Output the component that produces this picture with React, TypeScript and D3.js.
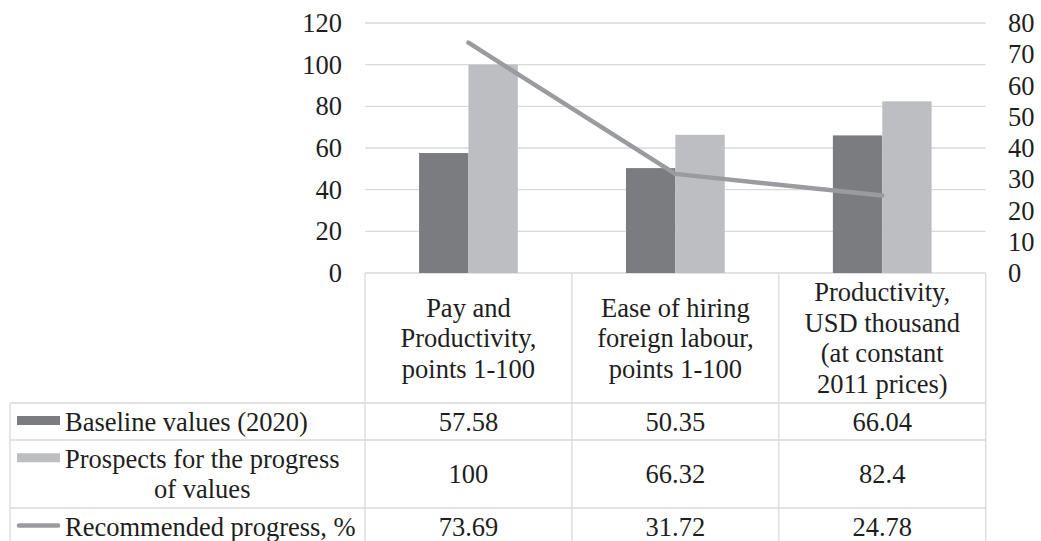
import React, { useEffect, useRef } from 'react';
import * as d3 from 'd3';

// category headers (already wrapped as in the data table)
const categories = [
  ['Pay and', 'Productivity,', 'points 1-100'],
  ['Ease of hiring', 'foreign labour,', 'points 1-100'],
  ['Productivity,', 'USD thousand', '(at constant', '2011 prices)'],
];
const baselineValues = [57.58, 50.35, 66.04];
const prospectValues = [100, 66.32, 82.4];
const recommendedValues = [73.69, 31.72, 24.78];

const seriesNames = [
  ['Baseline values (2020)'],
  ['Prospects for the progress', 'of values'],
  ['Recommended progress, %'],
];

const leftTicks = [0, 20, 40, 60, 80, 100, 120];
const rightTicks = [0, 10, 20, 30, 40, 50, 60, 70, 80];

const DARK = '#7b7c80';
const LIGHT = '#bdbec2';
const LINE = '#9a9b9f';
const GRID = '#d9d9d9';
const TEXT = '#1e1e1e';
const FONT = '"Liberation Serif", "Times New Roman", serif';

const App = () => {
  const svgRef = useRef<SVGSVGElement>(null);

  useEffect(() => {
    const W = 1041;
    const H = 541;
    const plot = { left: 365, right: 985.7, top: 23, bottom: 273 };
    const tableLeft = 10;
    const keyX0 = 17;
    const keyX1 = 60;
    const textX = 65;
    const lineH = 30.5;
    const fs = 26.5;

    const svg = d3.select(svgRef.current);
    svg.selectAll('*').remove();
    svg.attr('width', W).attr('height', H);

    const idx = categories.map((_, i) => i);
    const x = d3.scaleBand<number>().domain(idx).range([plot.left, plot.right]).padding(0);
    const inner = d3.scaleBand<string>()
      .domain(['baseline', 'prospects'])
      .range([0, x.bandwidth()])
      .paddingInner(0)
      .paddingOuter(1.095);
    const yLeft = d3.scaleLinear().domain([0, 120]).range([plot.bottom, plot.top]);
    const yRight = d3.scaleLinear().domain([0, 80]).range([plot.bottom, plot.top]);

    // gridlines
    svg.append('g')
      .selectAll('line')
      .data(leftTicks)
      .enter().append('line')
      .attr('x1', plot.left)
      .attr('x2', plot.right)
      .attr('y1', d => yLeft(d))
      .attr('y2', d => yLeft(d))
      .attr('stroke', GRID)
      .attr('stroke-width', 1.3);

    // bars
    const bars = [
      { key: 'baseline', values: baselineValues, color: DARK },
      { key: 'prospects', values: prospectValues, color: LIGHT },
    ];
    bars.forEach(s => {
      svg.append('g')
        .selectAll('rect')
        .data(s.values)
        .enter().append('rect')
        .attr('x', (_, i) => (x(i) as number) + (inner(s.key) as number))
        .attr('y', d => yLeft(d))
        .attr('width', inner.bandwidth())
        .attr('height', d => yLeft(0) - yLeft(d))
        .attr('fill', s.color);
    });

    // line on secondary axis
    const lineGen = d3.line<number>()
      .x((_, i) => (x(i) as number) + x.bandwidth() / 2)
      .y(d => yRight(d));
    svg.append('path')
      .datum(recommendedValues)
      .attr('d', lineGen)
      .attr('fill', 'none')
      .attr('stroke', LINE)
      .attr('stroke-width', 4.5)
      .attr('stroke-linecap', 'round')
      .attr('stroke-linejoin', 'round');

    // axis labels
    const txt = (g: any) => g
      .attr('font-family', FONT)
      .attr('font-size', fs)
      .attr('fill', TEXT);

    svg.append('g').call(txt)
      .selectAll('text')
      .data(leftTicks)
      .enter().append('text')
      .attr('x', 342)
      .attr('y', d => yLeft(d))
      .attr('dy', '0.34em')
      .attr('text-anchor', 'end')
      .text(d => d);

    svg.append('g').call(txt)
      .selectAll('text')
      .data(rightTicks)
      .enter().append('text')
      .attr('x', 1008)
      .attr('y', d => yRight(d))
      .attr('dy', '0.34em')
      .attr('text-anchor', 'start')
      .text(d => d);

    // data table
    const rowHeight = (n: number) => 37 + 31 * (n - 1);
    const headerLines = d3.max(categories, c => c.length) as number;
    const headerTop = plot.bottom;
    const headerBottom = headerTop + rowHeight(headerLines);
    const rowTops: number[] = [];
    let yy = headerBottom;
    seriesNames.forEach(n => { rowTops.push(yy); yy += rowHeight(n.length); });
    const tableBottom = yy;

    const tg = svg.append('g');
    // vertical lines
    const vx = [...idx.map(i => x(i) as number), plot.right];
    vx.forEach(v => {
      tg.append('line').attr('x1', v).attr('x2', v)
        .attr('y1', headerTop).attr('y2', tableBottom)
        .attr('stroke', GRID).attr('stroke-width', 1.3);
    });
    tg.append('line').attr('x1', tableLeft).attr('x2', tableLeft)
      .attr('y1', headerBottom).attr('y2', tableBottom)
      .attr('stroke', GRID).attr('stroke-width', 1.3);
    [...rowTops, tableBottom].forEach(v => {
      tg.append('line').attr('x1', tableLeft).attr('x2', plot.right)
        .attr('y1', v).attr('y2', v)
        .attr('stroke', GRID).attr('stroke-width', 1.3);
    });

    const firstBaseline = (top: number, h: number, n: number) =>
      top + h / 2 - ((n - 1) * lineH) / 2 + 9;

    // header text
    const hg = svg.append('g').call(txt).attr('text-anchor', 'middle');
    categories.forEach((lines, i) => {
      const cx = (x(i) as number) + x.bandwidth() / 2;
      const b0 = firstBaseline(headerTop, headerBottom - headerTop, lines.length);
      lines.forEach((l, j) => {
        hg.append('text').attr('x', cx).attr('y', b0 + j * lineH).text(l);
      });
    });

    // value cells
    const rowsData = [baselineValues, prospectValues, recommendedValues];
    const vg = svg.append('g').call(txt).attr('text-anchor', 'middle');
    rowsData.forEach((vals, r) => {
      const h = rowHeight(seriesNames[r].length);
      const b = firstBaseline(rowTops[r], h, 1);
      vals.forEach((v, i) => {
        vg.append('text')
          .attr('x', (x(i) as number) + x.bandwidth() / 2)
          .attr('y', b)
          .text(String(v));
      });
    });

    // legend keys + series names
    const lg = svg.append('g').call(txt);
    seriesNames.forEach((lines, r) => {
      const h = rowHeight(lines.length);
      const b0 = firstBaseline(rowTops[r], h, lines.length);
      const keyY = b0 - 10;
      if (r < 2) {
        lg.append('rect')
          .attr('x', keyX0).attr('y', keyY - 4.5)
          .attr('width', keyX1 - keyX0).attr('height', 9)
          .attr('fill', bars[r].color);
      } else {
        lg.append('line')
          .attr('x1', keyX0 + 2).attr('x2', keyX1 - 2)
          .attr('y1', keyY).attr('y2', keyY)
          .attr('stroke', LINE).attr('stroke-width', 4.5)
          .attr('stroke-linecap', 'round');
      }
      const first = lg.append('text').attr('x', textX).attr('y', b0).text(lines[0]);
      const w = (first.node() as SVGTextElement).getComputedTextLength();
      lines.slice(1).forEach((l, j) => {
        lg.append('text')
          .attr('x', textX + w / 2)
          .attr('y', b0 + (j + 1) * lineH)
          .attr('text-anchor', 'middle')
          .text(l);
      });
    });
  }, []);

  return (
    <svg
      ref={svgRef}
      style={{ position: 'absolute', left: 0, top: 0, display: 'block', background: '#fff' }}
    ></svg>
  );
};

export default App;
